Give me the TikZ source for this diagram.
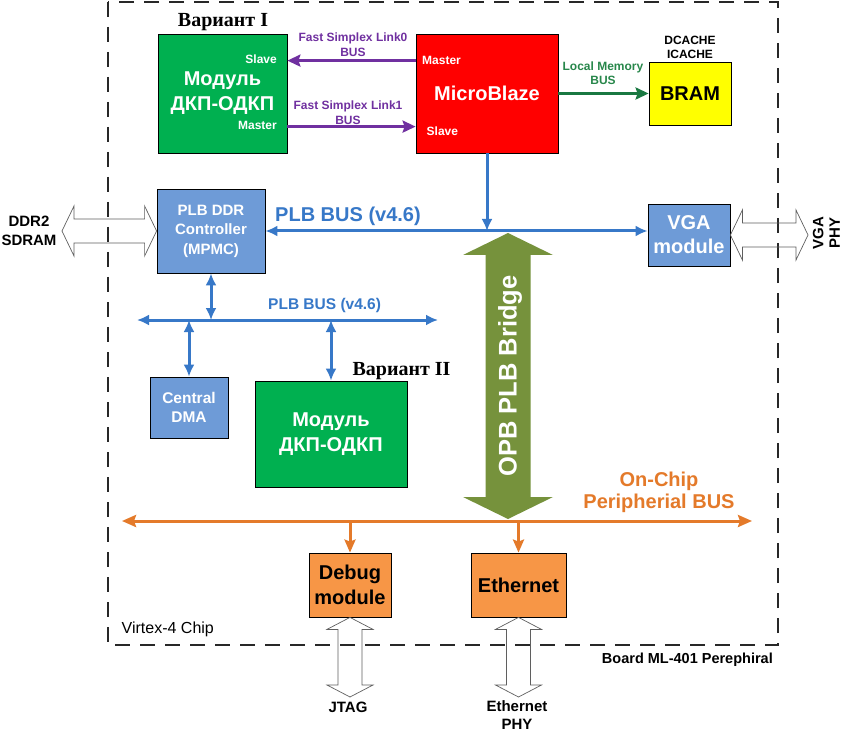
\documentclass[tikz,border=0pt]{standalone}
\usepackage{fontspec}
\setmainfont{Liberation Sans}
\newfontfamily\serifrus{Liberation Serif}
\usetikzlibrary{arrows.meta,calc}
\definecolor{modgreen}{RGB}{0,176,80}
\definecolor{mbred}{RGB}{255,0,0}
\definecolor{bramyel}{RGB}{255,255,0}
\definecolor{bluefill}{RGB}{110,155,215}
\definecolor{blueline}{RGB}{55,120,200}
\definecolor{olivebr}{RGB}{118,146,60}
\definecolor{orfill}{RGB}{247,150,70}
\definecolor{orline}{RGB}{228,122,42}
\definecolor{fslpurple}{RGB}{112,48,160}
\definecolor{lmgreen}{RGB}{25,120,65}
\definecolor{lmtext}{RGB}{40,135,75}
\definecolor{hollowgray}{RGB}{95,95,95}
\definecolor{dashgray}{RGB}{40,40,40}
\newcommand{\fsz}[2]{\fontsize{#1}{#2}\selectfont}
\newcommand{\hollowH}[2]{%
  \draw[hollowarrow] (#1) -- ++(12,-25) -- ++(0,13) -- ($(#2)+(-12,-12)$) -- ++(0,-13) -- (#2)
    -- ++(-12,25) -- ++(0,-13) -- ($(#1)+(12,12)$) -- ++(0,13) -- cycle;}
\newcommand{\hollowV}[2]{%
  \draw[hollowarrow] (#1) -- ++(-23,12) -- ++(11,0) -- ($(#2)+(-12,-12)$) -- ++(-11,0) -- (#2)
    -- ++(23,-12) -- ++(-11,0) -- ($(#1)+(12,12)$) -- ++(11,0) -- cycle;}
\begin{document}
\begin{tikzpicture}[x=1pt,y=-1pt,
  box/.style={draw=black, line width=0.8pt, inner sep=0pt, align=center, font=\bfseries\fsz{20}{25}},
  smalllbl/.style={inner sep=0pt, font=\bfseries\fsz{12}{15}},
  lbl/.style={inner sep=0pt, align=center, font=\bfseries\fsz{12}{15}},
  hollowarrow/.style={draw=hollowgray, line width=0.7pt, line join=miter},
  barrow/.style={draw=blueline, line width=3pt, arrows={-Latex[length=12pt,width=11pt]}},
  bboth/.style={draw=blueline, line width=3pt, arrows={Latex[length=12pt,width=11pt]-Latex[length=12pt,width=11pt]}},
  parrow/.style={draw=fslpurple, line width=3pt, arrows={-Stealth[length=13pt,width=12pt,inset=2pt]}},
  garrow/.style={draw=lmgreen, line width=3pt, arrows={-Stealth[length=13pt,width=12pt,inset=2pt]}},
  oarrow/.style={draw=orline, line width=3pt, arrows={-Stealth[length=13pt,width=11pt,inset=2pt]}},
  oboth/.style={draw=orline, line width=3pt, arrows={Stealth[length=14pt,width=12pt,inset=2pt]-Stealth[length=14pt,width=12pt,inset=2pt]}},
  rus/.style={inner sep=0pt, font=\serifrus\bfseries\fsz{20}{24}}]
\useasboundingbox (0,0) rectangle (849,738);
\fill[white] (0,0) rectangle (849,738);

% chip outline
\draw[dashgray, line width=1.3pt, dash pattern=on 15pt off 10pt] (108,2) rectangle (778,645);
\node[inner sep=0pt, anchor=base west, font=\fsz{16}{19}] (chiplbl) at (121.5,633) {Virtex-4 Chip};
\node[inner sep=0pt, anchor=base east, font=\bfseries\fsz{14.5}{17}] (boardlbl) at (773,663) {Board ML-401 Perephiral};

% top row
\node[rus, anchor=base] (var1) at (223,27) {Вариант I};
\node[box, fill=modgreen, text=white, minimum width=129pt, minimum height=119pt] (mod1) at (222.5,93.5) {Модуль\\ДКП-ОДКП};
\node[smalllbl, text=white, anchor=base east] (m1slave) at (277,64) {Slave};
\node[smalllbl, text=white, anchor=base east] (m1master) at (277,130) {Master};

\node[box, fill=mbred, text=white, minimum width=142pt, minimum height=119pt] (mb) at (487,93.5) {MicroBlaze};
\node[smalllbl, text=white, anchor=base west] (mbmaster) at (422,65) {Master};
\node[smalllbl, text=white, anchor=base west] (mbslave) at (426.5,135.5) {Slave};

\node[box, fill=bramyel, text=black, minimum width=82pt, minimum height=63pt] (bram) at (690,93.5) {BRAM};
\node[lbl, font=\bfseries\fsz{12}{14}] (cache) at (690,47) {DCACHE\\ICACHE};

\node[lbl, text=fslpurple] (fsl0) at (353,44.5) {Fast Simplex Link0\\BUS};
\node[lbl, text=fslpurple] (fsl1) at (348,113) {Fast Simplex Link1\\BUS};
\node[lbl, text=lmtext, font=\bfseries\fsz{12}{14.5}] (lmb) at (603,73) {Local Memory\\BUS};

\draw[parrow] ([yshift=-27pt]mb.north west) -- ([yshift=-27pt]mod1.north east);
\draw[parrow] ([yshift=-93pt]mod1.north east) -- ([yshift=-93pt]mb.north west);
\draw[garrow] (mb.east) -- (bram.west);

% PLB DDR controller and VGA
\node[box, fill=bluefill, text=white, minimum width=108pt, minimum height=84pt, font=\bfseries\fsz{15}{19.5}] (ddr) at (211,231) {PLB DDR\\Controller\\(MPMC)};
\node[box, fill=bluefill, text=white, minimum width=82pt, minimum height=62pt, font=\bfseries\fsz{20}{24}] (vga) at (689,235) {VGA\\module};
\node[lbl, font=\bfseries\fsz{15}{19}] (ddr2) at (29,231) {DDR2\\SDRAM};
\node[lbl, rotate=90, font=\bfseries\fsz{15}{16.5}] (vgaphy) at (826.5,233) {VGA\\PHY};

\coordinate (ddrT) at (62,231);
\hollowH{ddrT}{ddr.west}
\coordinate (vgaT) at (808,235);
\hollowH{vga.east}{vgaT}

% OPB PLB bridge
\coordinate (brT) at (508,233);
\coordinate (brB) at (508,519);
\fill[olivebr] (brT) -- ++(45,22) -- ++(-22.5,0) -- ($(brB)+(22.5,-22)$) -- ++(22.5,0) -- (brB)
  -- ++(-45,-22) -- ++(22.5,0) -- ($(brT)+(-22.5,22)$) -- ++(-22.5,0) -- cycle;
\node[inner sep=0pt, rotate=90, text=white, font=\bfseries\fsz{25.5}{28}] (brlbl) at (510,376) {OPB PLB Bridge};

% upper PLB bus
\draw[bboth] (ddr.east) -- (ddr.east -| vga.west);
\draw[barrow] (mb.south) -- (mb.south |- ddr.east);
\node[inner sep=0pt, anchor=base west, text=blueline, font=\bfseries\fsz{20}{24}] (plb1) at (275,221.5) {PLB BUS (v4.6)};

% lower PLB bus
\coordinate (lbL) at (137,320);
\coordinate (lbR) at (438,320);
\draw[bboth] (lbL) -- (lbR);
\node[inner sep=0pt, anchor=base west, text=blueline, font=\bfseries\fsz{15.5}{18}] (plb2) at (268,309) {PLB BUS (v4.6)};
\node[box, fill=bluefill, text=white, minimum width=78pt, minimum height=61pt, font=\bfseries\fsz{15.5}{19}] (dma) at (189,407.5) {Central\\DMA};
\node[box, fill=modgreen, text=white, minimum width=152pt, minimum height=106pt] (mod2) at (331,434) {Модуль\\ДКП-ОДКП};
\node[rus, anchor=base] (var2) at (401.5,375) {Вариант II};
\draw[bboth] (ddr.south) -- (ddr.south |- lbL);
\draw[bboth] (dma.north |- lbL) -- (dma.north);
\draw[bboth] (mod2.north |- lbL) -- (mod2.north);

% on-chip peripheral bus
\coordinate (obL) at (122,521);
\coordinate (obR) at (752,521);
\draw[oboth] (obL) -- (obR);
\node[inner sep=0pt, anchor=base, text=orline, font=\bfseries\fsz{20}{24}] (opb1) at (659,486) {On-Chip};
\node[inner sep=0pt, anchor=base, text=orline, font=\bfseries\fsz{20}{24}] (opb2) at (659,508) {Peripherial BUS};
\node[box, fill=orfill, text=black, minimum width=82pt, minimum height=64pt] (debug) at (350,585) {Debug\\module};
\node[box, fill=orfill, text=black, minimum width=95pt, minimum height=64pt] (eth) at (518.5,585) {Ethernet};
\draw[oarrow] (debug.north |- obL) -- (debug.north);
\draw[oarrow] (eth.north |- obL) -- (eth.north);

% external links
\coordinate (jtagT) at (350,697);
\hollowV{debug.south}{jtagT}
\coordinate (ephyT) at (518.5,697);
\hollowV{eth.south}{ephyT}
\node[lbl, font=\bfseries\fsz{15}{18.5}] (jtag) at (348,707) {JTAG};
\node[lbl, font=\bfseries\fsz{15}{18.5}] (ephy) at (517,715) {Ethernet\\PHY};
\end{tikzpicture}
\end{document}
